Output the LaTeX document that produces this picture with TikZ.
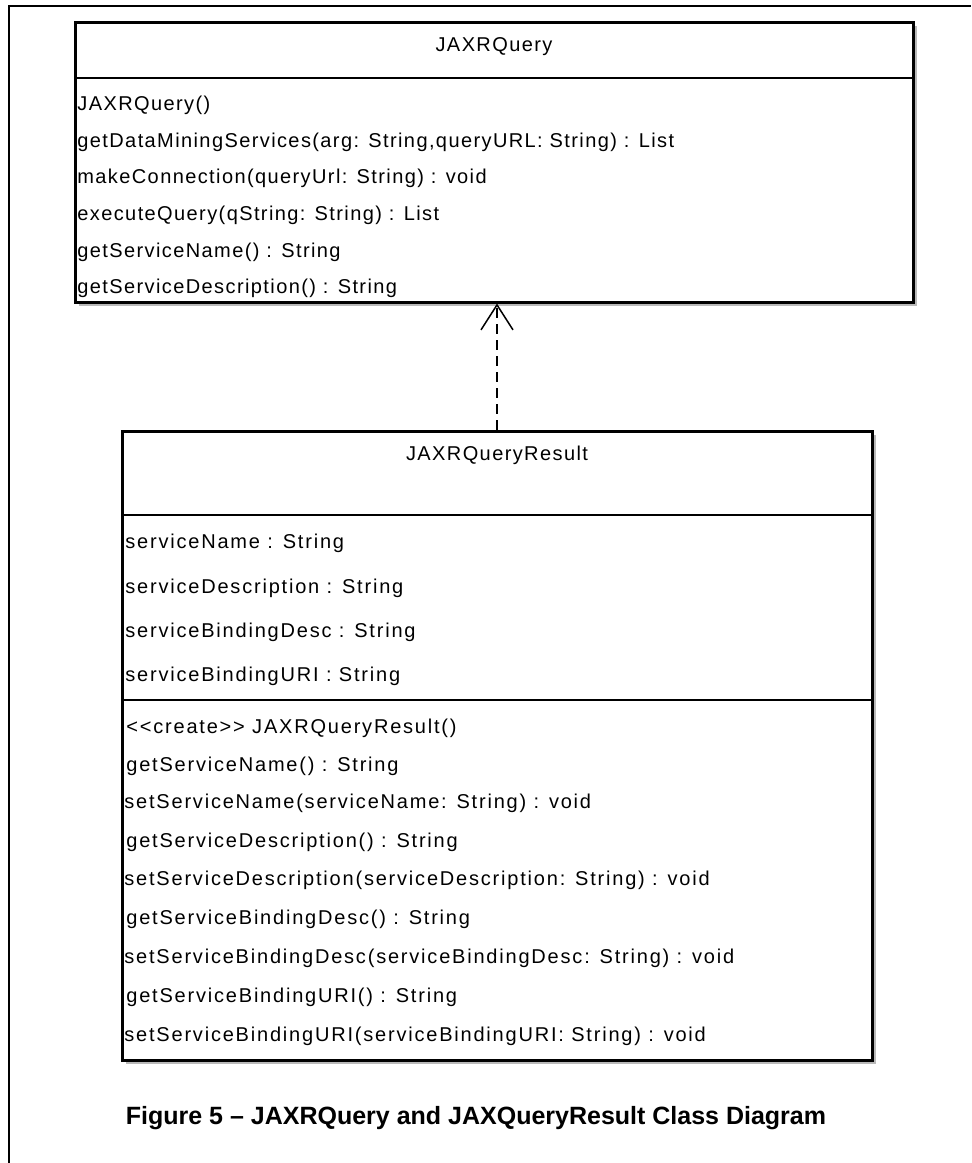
\documentclass[tikz,border=0pt]{standalone}
\usepackage{fontspec}
\setmainfont{Liberation Sans}
\newfontfamily\umlfont[LetterSpace=7]{Liberation Sans}
\newfontfamily\umlwidefont[LetterSpace=9]{Liberation Sans}
\usetikzlibrary{arrows.meta,fit,shadows}

\tikzset{
	classbox/.style={draw,line width=1.5pt,inner sep=0pt,fill=white,
		drop shadow={shadow xshift=2pt,shadow yshift=-2pt,fill=gray!55,opacity=1}},
	member/.style={anchor=west,inner sep=0pt,font=\umlfont\fontsize{10}{12}\selectfont},
	widemember/.style={member,font=\umlwidefont\fontsize{10}{12}\selectfont},
	classname/.style={inner sep=0pt,font=\umlfont\fontsize{10}{12}\selectfont},
	divider/.style={line width=1pt}
}

\begin{document}
\begin{tikzpicture}[x=0.5pt,y=-0.5pt]
	\useasboundingbox (0,0) rectangle (971,1163);
	\draw [line width=0.8pt] (9,1163) -- (9,6) -- (971,6);

	\node [classbox,fit={(75,22) (913,302)}] (query) {};
	\draw [divider] (75,78) -- (913,78);
	\node [classname] (queryname) at (494,47) {JAXRQuery};
	\node [member] (q1) at (77,105) {JAXRQuery()};
	\node [member] (q2) at (77,142) {getDataMiningServices(arg: String,queryURL: String) : List};
	\node [member] (q3) at (77,178) {makeConnection(queryUrl: String) : void};
	\node [member] (q4) at (77,215) {executeQuery(qString: String) : List};
	\node [member] (q5) at (77,252) {getServiceName() : String};
	\node [member] (q6) at (77,288) {getServiceDescription() : String};

	\node [classbox,fit={(122,431) (872,1060)}] (result) {};
	\draw [divider] (122,515) -- (872,515);
	\draw [divider] (122,700) -- (872,700);
	\node [classname] (resultname) at (497,455) {JAXRQueryResult};
	\node [widemember] (a1) at (125,543) {serviceName : String};
	\node [widemember] (a2) at (125,588) {serviceDescription : String};
	\node [widemember] (a3) at (125,632) {serviceBindingDesc : String};
	\node [widemember] (a4) at (125,676) {serviceBindingURI : String};
	\node [widemember] (r1) at (126,728) {{<}{<}create{>}{>} JAXRQueryResult()};
	\node [widemember] (r2) at (126,766) {getServiceName() : String};
	\node [widemember] (r3) at (124,803) {setServiceName(serviceName: String) : void};
	\node [widemember] (r4) at (126,842) {getServiceDescription() : String};
	\node [widemember] (r5) at (124,880) {setServiceDescription(serviceDescription: String) : void};
	\node [widemember] (r6) at (126,919) {getServiceBindingDesc() : String};
	\node [widemember] (r7) at (124,958) {setServiceBindingDesc(serviceBindingDesc: String) : void};
	\node [widemember] (r8) at (126,997) {getServiceBindingURI() : String};
	\node [widemember] (r9) at (124,1036) {setServiceBindingURI(serviceBindingURI: String) : void};

	\draw [line width=0.75pt,dash pattern=on 5pt off 3pt,-{Straight Barb[length=12.5pt,width=16pt]}] (result.north -| 497,0) -- (query.south -| 497,0);

	\node [font=\bfseries\fontsize{12.5}{15}\selectfont] (caption) at (476,1118) {Figure 5 -- JAXRQuery and JAXQueryResult Class Diagram};
\end{tikzpicture}
\end{document}
